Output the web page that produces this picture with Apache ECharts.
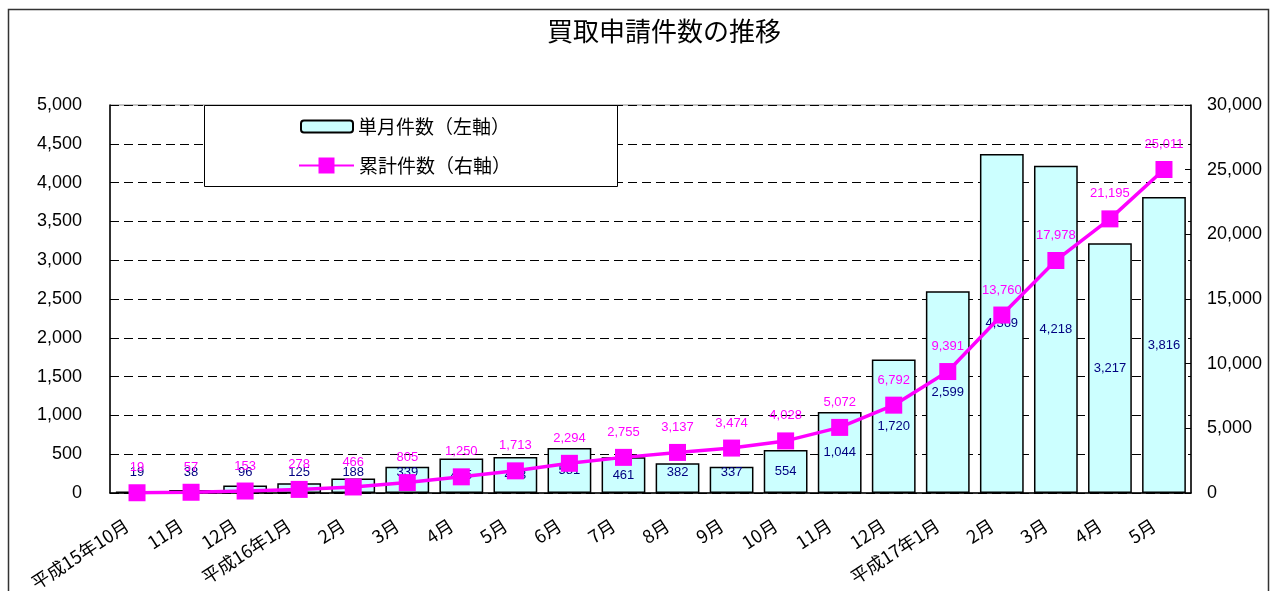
<!DOCTYPE html>
<html>
<head>
<meta charset="utf-8">
<script src="https://cdn.jsdelivr.net/npm/echarts@6/dist/echarts.min.js"></script>
<style>
  html, body { margin: 0; padding: 0; background: #fff; }
  #chart { width: 1273px; height: 591px; }
</style>
</head>
<body>
<div id="chart"></div>
<script>
// Months from 平成15年10月 to 平成17年5月
const months = ['平成15年10月', '11月', '12月', '平成16年1月', '2月', '3月', '4月', '5月', '6月', '7月',
  '8月', '9月', '10月', '11月', '12月', '平成17年1月', '2月', '3月', '4月', '5月'];
// Applications per month (left axis)
const monthlyCounts = [19, 38, 96, 125, 188, 339, 445, 463, 581, 461,
  382, 337, 554, 1044, 1720, 2599, 4369, 4218, 3217, 3816];
// Running total (right axis)
const cumulativeCounts = [19, 57, 153, 278, 466, 805, 1250, 1713, 2294, 2755,
  3137, 3474, 4028, 5072, 6792, 9391, 13760, 17978, 21195, 25011];

const leftTicks = { min: 0, max: 5000, interval: 500 };
const rightTicks = { min: 0, max: 30000, interval: 5000 };

const barName = '単月件数（左軸）';
const lineName = '累計件数（右軸）';

const fmt = v => Number(v).toLocaleString('en-US');
const numFont = 'Liberation Sans, Arial, sans-serif';
const jpFont = '"Noto Sans CJK JP", sans-serif';

// Short bars carry their value just above the baseline instead of centred
const barData = monthlyCounts.map(v => v < 400
  ? { value: v, label: { position: 'insideBottom', distance: 14 } }
  : { value: v });

const legendText = { fontFamily: jpFont, fontSize: 19, color: '#000' };

const chart = echarts.init(document.getElementById('chart'));
chart.setOption({
  backgroundColor: '#fff',
  animation: false,
  title: {
    text: '買取申請件数の推移',
    left: 547, top: 18, padding: 0,
    textStyle: { fontFamily: jpFont, fontSize: 26, fontWeight: 'normal', color: '#000' }
  },
  graphic: [{
    // outer chart frame
    type: 'rect', left: 6, top: 7, z: -1,
    shape: { width: 1260, height: 600 },
    style: { fill: 'none', stroke: '#333', lineWidth: 1.5 }
  }, {
    // legend box
    type: 'rect', left: 204, top: 105, z: 3,
    shape: { width: 413, height: 81 },
    style: { fill: '#fff', stroke: '#000', lineWidth: 1 }
  }],
  legend: [{
    left: 300, top: 117, padding: 0,
    itemWidth: 52, itemHeight: 12,
    textStyle: legendText,
    data: [barName], z: 5
  }, {
    left: 298, top: 156, padding: 0,
    itemWidth: 55, itemHeight: 20,
    textStyle: legendText,
    data: [lineName], z: 5
  }],
  grid: {
    left: 110, right: 82, top: 105, bottom: 98,
    outerBoundsMode: 'none',
    containLabel: false,
    show: true, borderColor: '#888', borderWidth: 1, backgroundColor: 'transparent'
  },
  xAxis: {
    type: 'category',
    data: months,
    axisLine: { lineStyle: { color: '#000', width: 1.5 } },
    axisTick: { inside: true, length: 5, lineStyle: { color: '#000' } },
    axisLabel: {
      interval: 0, rotate: 33, margin: 24,
      padding: [0, 12, 0, 0],
      fontFamily: jpFont, fontSize: 18, color: '#000'
    }
  },
  yAxis: [{
    type: 'value',
    min: leftTicks.min, max: leftTicks.max, interval: leftTicks.interval,
    axisLine: { show: true, lineStyle: { color: '#000', width: 1.5 } },
    axisTick: { show: true, inside: true, length: 6, lineStyle: { color: '#000' } },
    axisLabel: { margin: 28, formatter: fmt, fontFamily: numFont, fontSize: 18, color: '#000' },
    splitLine: { show: true, lineStyle: { color: '#000', type: [9, 5], width: 1 } }
  }, {
    type: 'value',
    min: rightTicks.min, max: rightTicks.max, interval: rightTicks.interval,
    position: 'right',
    axisLine: { show: true, lineStyle: { color: '#000', width: 1.5 } },
    axisTick: { show: true, inside: true, length: 6, lineStyle: { color: '#000' } },
    axisLabel: { margin: 16, formatter: fmt, fontFamily: numFont, fontSize: 18, color: '#000' },
    splitLine: { show: false }
  }],
  series: [{
    name: barName,
    type: 'bar',
    yAxisIndex: 0,
    barCategoryGap: '19%',
    data: barData,
    itemStyle: { color: '#CCFFFF', borderColor: '#000', borderWidth: 1.5 },
    label: {
      show: true, position: 'inside',
      formatter: p => fmt(p.value),
      fontFamily: numFont, fontSize: 13, color: '#000080'
    }
  }, {
    name: lineName,
    type: 'line',
    yAxisIndex: 1,
    data: cumulativeCounts,
    symbol: 'rect', symbolSize: 17,
    lineStyle: { color: '#FF00FF', width: 3.5 },
    itemStyle: { color: '#FF00FF' },
    label: {
      show: true, position: 'top', distance: 10,
      formatter: p => fmt(p.value),
      fontFamily: numFont, fontSize: 13, color: '#FF00FF'
    },
    z: 3
  }]
});
</script>
</body>
</html>
